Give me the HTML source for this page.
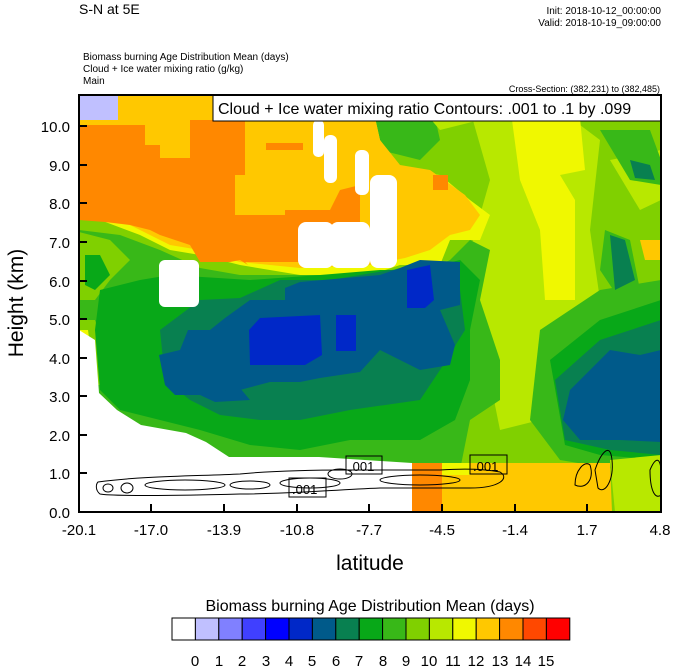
<!DOCTYPE html>
<html><head><meta charset="utf-8"><style>
body{margin:0;background:#fff;width:674px;height:668px;overflow:hidden}
svg{display:block;font-family:"Liberation Sans",sans-serif}
</style></head><body>
<svg width="674" height="668" viewBox="0 0 674 668">
<defs><clipPath id="c"><rect x="79" y="95" width="582" height="417"/></clipPath></defs>
<g clip-path="url(#c)">
<rect x="79" y="95" width="582" height="417" fill="#80d000"/>
<polygon points="470,110 560,110 600,140 590,230 600,300 560,330 540,420 500,430 480,330 470,250 490,180" fill="#b8e800"/>
<polygon points="512,120 580,118 585,170 560,175 575,200 575,300 545,300 540,230 520,180" fill="#f0f800"/>
<polygon points="610,160 661,150 661,200 640,210" fill="#b8e800"/>
<polygon points="640,240 661,240 661,260 645,260" fill="#ffc800"/>
<polygon points="370,95 430,95 440,140 420,160 380,150" fill="#38b818"/>
<polygon points="410,95 470,95 480,120 440,130" fill="#b8e800"/>
<polygon points="600,130 650,130 661,160 661,185 630,180" fill="#38b818"/>
<polygon points="630,160 650,165 655,180 635,178" fill="#088050"/>
<polygon points="605,230 630,240 640,290 620,300 600,270" fill="#38b818"/>
<polygon points="79,95 370,95 380,140 400,170 440,175 470,200 490,215 480,240 450,240 440,265 400,265 370,275 300,275 240,265 200,255 170,250 140,235 100,220 79,215" fill="#f0f800"/>
<polygon points="79,95 370,95 380,140 400,165 430,170 465,195 480,215 470,230 450,235 430,250 405,258 370,265 300,268 240,262 200,250 170,245 140,230 100,210 79,205" fill="#ffc800"/>
<polygon points="79,125 145,125 145,145 160,145 160,158 190,158 190,120 245,120 245,175 235,175 235,215 285,215 285,210 330,210 340,190 360,185 360,262 335,262 300,262 255,262 245,262 248,265 240,260 230,262 200,262 190,245 160,235 150,230 130,225 105,222 79,220" fill="#ff8800"/>
<polygon points="79,95 118,95 118,120 79,120" fill="#c0c0ff"/>
<polygon points="266,143 303,143 303,150 266,150" fill="#ff8800"/>
<polygon points="433,175 448,175 448,190 433,190" fill="#ff8800"/>
<polygon points="79,230 120,235 160,250 200,268 240,275 300,275 370,275 400,268 430,270 450,260 470,240 490,250 480,300 500,360 500,400 470,420 460,470 420,470 340,470 230,460 180,440 120,420 95,400 79,390" fill="#38b818"/>
<polygon points="79,232 110,240 130,260 110,280 95,300 79,300" fill="#80d000"/>
<polygon points="79,320 95,320 105,350 100,385 79,385" fill="#80d000"/>
<polygon points="79,330 88,330 92,360 88,390 79,390" fill="#f0f800"/>
<polygon points="85,255 100,255 110,275 95,290 85,285" fill="#08a818"/>
<polygon points="100,290 140,280 170,275 250,280 320,275 380,270 420,270 460,260 480,280 470,330 470,380 455,420 420,440 350,440 300,450 250,445 200,430 160,420 120,410 100,390 95,330" fill="#08a818"/>
<polygon points="160,330 200,300 240,298 280,280 330,280 390,270 440,270 460,290 465,330 440,370 420,400 350,410 300,420 260,420 220,415 190,400 165,380" fill="#088050"/>
<polygon points="159,355 180,350 188,330 210,330 225,318 250,300 285,300 285,288 300,282 380,275 400,268 420,260 460,262 460,305 440,310 455,345 450,365 420,370 400,360 380,350 360,372 320,378 300,382 270,382 240,390 210,395 190,395 175,395 165,385" fill="#005a8a"/>
<polygon points="200,395 240,388 250,400 215,402" fill="#005a8a"/>
<polygon points="249,330 260,318 320,315 322,355 305,365 250,365" fill="#0028c8"/>
<polygon points="336,315 356,315 356,351 336,351" fill="#0028c8"/>
<polygon points="407,270 430,265 434,300 425,308 407,308" fill="#0028c8"/>
<polygon points="540,330 600,290 661,280 661,470 620,470 560,460 530,420" fill="#38b818"/>
<polygon points="550,360 600,320 661,300 661,460 600,455 565,445" fill="#08a818"/>
<polygon points="555,380 600,340 661,320 661,455 610,450 565,440" fill="#088050"/>
<polygon points="563,420 570,390 610,350 640,355 661,350 661,442 620,440 580,440" fill="#005a8a"/>
<polygon points="610,235 625,240 635,280 615,290" fill="#088050"/>
<polygon points="79,330 95,340 99,393 117,410 141,425 186,433 206,442 229,457 319,457 412,463 412,512 79,512" fill="#fff"/>
<polygon points="412,463 442,463 442,512 412,512" fill="#ff8800"/>
<polygon points="442,463 610,463 612,512 442,512" fill="#ffc800"/>
<polygon points="442,463 470,463 470,475 442,475" fill="#f0f800"/>
<polygon points="610,460 661,455 661,512 615,512" fill="#b8e800"/>
<rect x="159" y="260" width="40" height="47" rx="6" fill="#fff"/>
<rect x="298" y="222" width="36" height="46" rx="8" fill="#fff"/>
<rect x="330" y="222" width="40" height="46" rx="8" fill="#fff"/>
<rect x="370" y="175" width="27" height="93" rx="8" fill="#fff"/>
<rect x="313" y="120" width="11" height="37" rx="5" fill="#fff"/>
<rect x="324" y="135" width="13" height="48" rx="6" fill="#fff"/>
<rect x="355" y="150" width="14" height="45" rx="6" fill="#fff"/>
<rect x="375" y="176" width="14" height="22" rx="6" fill="#fff"/>
<g fill="none" stroke="#000" stroke-width="1">
<path d="M98,482 C140,476 200,476 240,474 C280,470 330,470 350,470 L440,470 C470,468 490,470 500,472 C510,478 500,488 470,488 L380,488 C330,490 290,494 240,494 C170,496 110,496 100,494 C95,490 96,484 98,482Z"/>
<ellipse cx="108" cy="488" rx="5" ry="4"/>
<ellipse cx="127" cy="488" rx="6" ry="5"/>
<ellipse cx="185" cy="485" rx="40" ry="5"/>
<ellipse cx="250" cy="485" rx="20" ry="4"/>
<ellipse cx="310" cy="483" rx="30" ry="5"/>
<ellipse cx="420" cy="480" rx="40" ry="5"/>
<ellipse cx="340" cy="474" rx="12" ry="5"/>
<path d="M575,485 C575,470 585,460 590,465 C595,480 585,490 575,485Z"/>
<path d="M595,470 C600,455 610,440 612,460 C614,480 605,495 598,488Z"/>
<path d="M650,470 C655,458 660,456 661,470 L661,495 C655,500 650,490 650,470Z"/>
</g>
<g font-size="13" fill="#000">
<rect x="289" y="478" width="37" height="19" fill="none" stroke="#000"/>
<text x="292" y="494">.001</text>
<rect x="346" y="456" width="36" height="18" fill="none" stroke="#000"/>
<text x="349" y="471">.001</text>
<rect x="470" y="455" width="37" height="19" fill="none" stroke="#000"/>
<text x="473" y="471">.001</text>
</g>
<rect x="213" y="95" width="448" height="26" fill="#fff" stroke="#000"/>
<text x="218" y="114" font-size="16">Cloud + Ice water mixing ratio Contours: .001 to .1 by .099</text>
</g>
<rect x="79" y="95" width="582" height="417" fill="none" stroke="#000" stroke-width="2"/>
<g stroke="#000" stroke-width="2">
<line x1="79" y1="126" x2="87" y2="126"/><line x1="79" y1="165" x2="87" y2="165"/><line x1="79" y1="203" x2="87" y2="203"/><line x1="79" y1="242" x2="87" y2="242"/><line x1="79" y1="281" x2="87" y2="281"/><line x1="79" y1="319" x2="87" y2="319"/><line x1="79" y1="358" x2="87" y2="358"/><line x1="79" y1="396" x2="87" y2="396"/><line x1="79" y1="435" x2="87" y2="435"/><line x1="79" y1="473" x2="87" y2="473"/>
<line x1="151" y1="512" x2="151" y2="504"/><line x1="224" y1="512" x2="224" y2="504"/><line x1="297" y1="512" x2="297" y2="504"/><line x1="369" y1="512" x2="369" y2="504"/><line x1="442" y1="512" x2="442" y2="504"/><line x1="515" y1="512" x2="515" y2="504"/><line x1="587" y1="512" x2="587" y2="504"/>
</g>
<g font-size="15" text-anchor="end">
<text x="70" y="132">10.0</text><text x="70" y="171">9.0</text><text x="70" y="209">8.0</text><text x="70" y="248">7.0</text><text x="70" y="287">6.0</text><text x="70" y="325">5.0</text><text x="70" y="364">4.0</text><text x="70" y="402">3.0</text><text x="70" y="441">2.0</text><text x="70" y="479">1.0</text><text x="70" y="518">0.0</text>
</g>
<g font-size="15" text-anchor="middle">
<text x="79" y="535">-20.1</text><text x="151" y="535">-17.0</text><text x="224" y="535">-13.9</text><text x="297" y="535">-10.8</text><text x="369" y="535">-7.7</text><text x="442" y="535">-4.5</text><text x="515" y="535">-1.4</text><text x="587" y="535">1.7</text><text x="660" y="535">4.8</text>
</g>
<text x="370" y="570" font-size="21" text-anchor="middle">latitude</text>
<text transform="translate(23,303) rotate(-90)" font-size="21" text-anchor="middle">Height (km)</text>
<text x="79" y="14" font-size="14">S-N at 5E</text>
<text x="661" y="14" font-size="10" text-anchor="end">Init: 2018-10-12_00:00:00</text>
<text x="661" y="26" font-size="10" text-anchor="end">Valid: 2018-10-19_09:00:00</text>
<text x="83" y="60" font-size="10">Biomass burning Age Distribution Mean    (days)</text>
<text x="83" y="72" font-size="10">Cloud + Ice water mixing ratio    (g/kg)</text>
<text x="83" y="84" font-size="10">Main</text>
<text x="660" y="92" font-size="9" text-anchor="end">Cross-Section: (382,231) to (382,485)</text>
<text x="370" y="611" font-size="16" text-anchor="middle">Biomass burning Age Distribution Mean  (days)</text>
<g stroke="#000" stroke-width="1">
<rect x="172" y="618" width="23.4" height="22" fill="#fff"/>
<rect x="195.4" y="618" width="23.4" height="22" fill="#c0c0ff"/>
<rect x="218.8" y="618" width="23.4" height="22" fill="#8080ff"/>
<rect x="242.2" y="618" width="23.4" height="22" fill="#4040ff"/>
<rect x="265.6" y="618" width="23.4" height="22" fill="#0000ff"/>
<rect x="289" y="618" width="23.4" height="22" fill="#0028c8"/>
<rect x="312.4" y="618" width="23.4" height="22" fill="#005a8a"/>
<rect x="335.8" y="618" width="23.4" height="22" fill="#088050"/>
<rect x="359.2" y="618" width="23.4" height="22" fill="#08a818"/>
<rect x="382.6" y="618" width="23.4" height="22" fill="#38b818"/>
<rect x="406" y="618" width="23.4" height="22" fill="#80d000"/>
<rect x="429.4" y="618" width="23.4" height="22" fill="#b8e800"/>
<rect x="452.8" y="618" width="23.4" height="22" fill="#f0f800"/>
<rect x="476.2" y="618" width="23.4" height="22" fill="#ffc800"/>
<rect x="499.6" y="618" width="23.4" height="22" fill="#ff8800"/>
<rect x="523" y="618" width="23.4" height="22" fill="#ff4800"/>
<rect x="546.4" y="618" width="23.4" height="22" fill="#ff0000"/>
</g>
<g font-size="15" text-anchor="middle">
<text x="195" y="666">0</text><text x="219" y="666">1</text><text x="242" y="666">2</text><text x="266" y="666">3</text><text x="289" y="666">4</text><text x="312" y="666">5</text><text x="336" y="666">6</text><text x="359" y="666">7</text><text x="383" y="666">8</text><text x="406" y="666">9</text><text x="429" y="666">10</text><text x="453" y="666">11</text><text x="476" y="666">12</text><text x="500" y="666">13</text><text x="523" y="666">14</text><text x="546" y="666">15</text>
</g>
</svg>
</body></html>
